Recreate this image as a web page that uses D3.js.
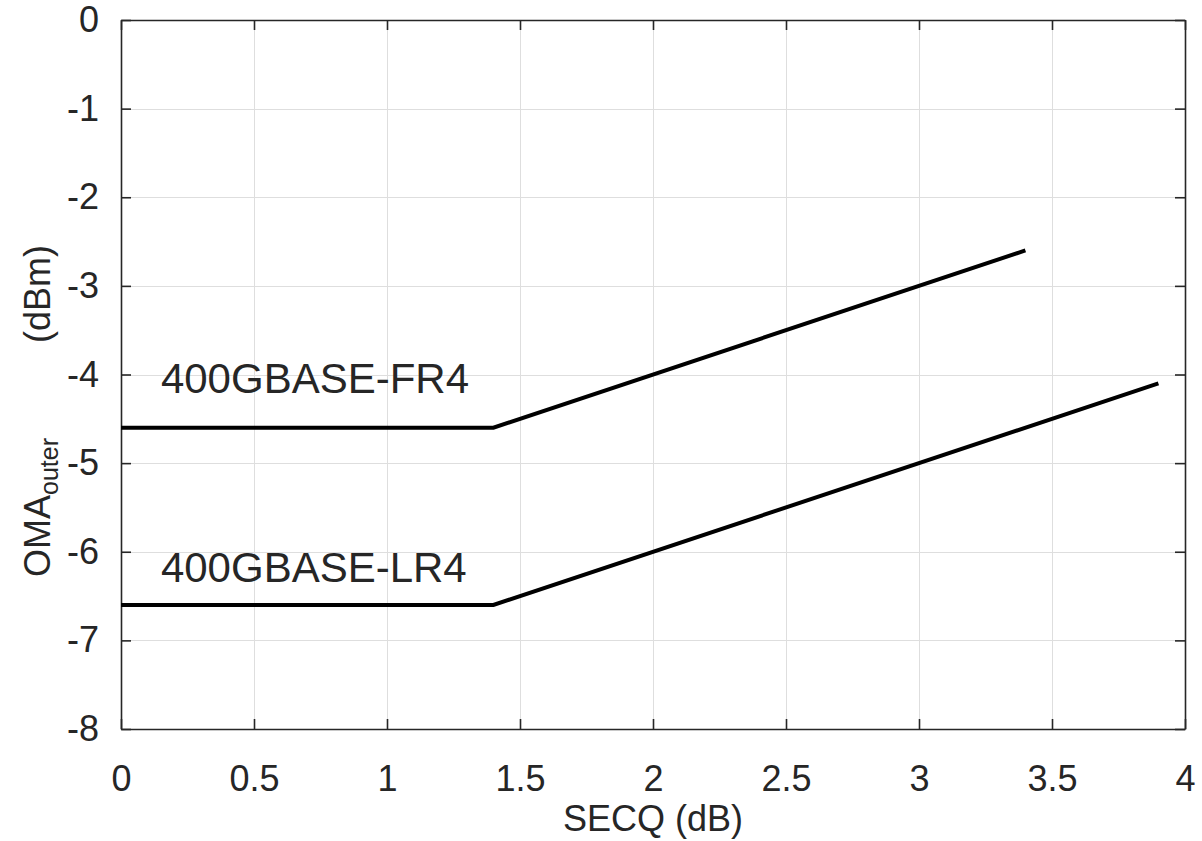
<!DOCTYPE html>
<html>
<head>
<meta charset="UTF-8">
<title>OMA outer vs SECQ</title>
<script src="https://cdn.jsdelivr.net/npm/d3@7"></script>
<style>
  body { margin: 0; background: #fff; }
  svg { display: block; font-family: "Liberation Sans", Arial, Helvetica, sans-serif; }
  .grid line { stroke: #dedede; stroke-width: 1; shape-rendering: crispEdges; }
  .tick-label { fill: #262626; font-size: 36px; }
</style>
</head>
<body>
<svg id="chart" width="1202" height="841"></svg>
<script>
// data
const xTicks = [0, 0.5, 1, 1.5, 2, 2.5, 3, 3.5, 4];
const yTicks = [0, -1, -2, -3, -4, -5, -6, -7, -8];
const fr4 = [[0, -4.6], [1.4, -4.6], [3.4, -2.6]];
const lr4 = [[0, -6.6], [1.4, -6.6], [3.9, -4.1]];
const labels = [
  { text: "400GBASE-FR4", x: 0.15, y: -4.21 },
  { text: "400GBASE-LR4", x: 0.15, y: -6.34 }
];

const svg = d3.select("#chart");
const m = { left: 121, right: 1185, top: 20, bottom: 729 };

const x = d3.scaleLinear().domain([0, 4]).range([m.left, m.right]);
const y = d3.scaleLinear().domain([-8, 0]).range([m.bottom, m.top]);

// grid
const grid = svg.append("g").attr("class", "grid");
grid.selectAll(".gx").data(xTicks.slice(1, -1)).enter().append("line")
  .attr("x1", d => Math.round(x(d)) + 0.5).attr("x2", d => Math.round(x(d)) + 0.5)
  .attr("y1", m.top).attr("y2", m.bottom);
grid.selectAll(".gy").data(yTicks.slice(1, -1)).enter().append("line")
  .attr("y1", d => Math.round(y(d)) + 0.5).attr("y2", d => Math.round(y(d)) + 0.5)
  .attr("x1", m.left).attr("x2", m.right);

// axes (ticks pointing inward, all four sides)
const tickLen = 10;
const axisStyle = g => {
  g.select(".domain").attr("stroke", "#262626").attr("stroke-width", 1.6);
  g.selectAll(".tick line").attr("stroke", "#262626").attr("stroke-width", 1.6);
  g.selectAll(".tick text").attr("class", "tick-label").attr("fill", "#262626")
    .style("font-size", "36px").style("font-family", "inherit");
};

svg.append("g").attr("transform", `translate(0,${m.bottom})`)
  .call(d3.axisBottom(x).tickValues(xTicks).tickFormat(d3.format("")).tickSizeInner(-tickLen).tickSizeOuter(0).tickPadding(36))
  .call(axisStyle);
svg.append("g").attr("transform", `translate(0,${m.top})`)
  .call(d3.axisTop(x).tickValues(xTicks).tickFormat("").tickSizeInner(-tickLen).tickSizeOuter(0))
  .call(axisStyle);
svg.append("g").attr("transform", `translate(${m.left},0)`)
  .call(d3.axisLeft(y).tickValues(yTicks).tickFormat(d3.format("")).tickSizeInner(-tickLen).tickSizeOuter(0).tickPadding(22))
  .call(axisStyle);
svg.append("g").attr("transform", `translate(${m.right},0)`)
  .call(d3.axisRight(y).tickValues(yTicks).tickFormat("").tickSizeInner(-tickLen).tickSizeOuter(0))
  .call(axisStyle);

// plain hyphen minus like the reference
svg.selectAll(".tick-label").text(function () { return this.textContent.replace("\u2212", "-"); });

// data lines
const line = d3.line().x(d => x(d[0])).y(d => y(d[1]));
[fr4, lr4].forEach(s => {
  svg.append("path").datum(s)
    .attr("d", line)
    .attr("fill", "none")
    .attr("stroke", "#000")
    .attr("stroke-width", 4)
    .attr("stroke-linejoin", "miter");
});

// annotations
svg.selectAll(".ann").data(labels).enter().append("text")
  .attr("x", d => x(d.x)).attr("y", d => y(d.y))
  .attr("fill", "#262626")
  .style("font-size", "42px")
  .text(d => d.text);

// axis titles
svg.append("text")
  .attr("x", (m.left + m.right) / 2).attr("y", 831)
  .attr("text-anchor", "middle")
  .attr("fill", "#262626")
  .style("font-size", "36px")
  .text("SECQ (dB)");

const yl = svg.append("text")
  .attr("transform", "translate(50,577) rotate(-90)")
  .attr("fill", "#262626")
  .style("font-size", "36px");
yl.append("tspan").text("OMA");
yl.append("tspan").attr("dy", 8).style("font-size", "25px").text("outer");
yl.append("tspan").attr("x", 234).attr("dy", -8).text("(dBm)");
</script>
</body>
</html>
